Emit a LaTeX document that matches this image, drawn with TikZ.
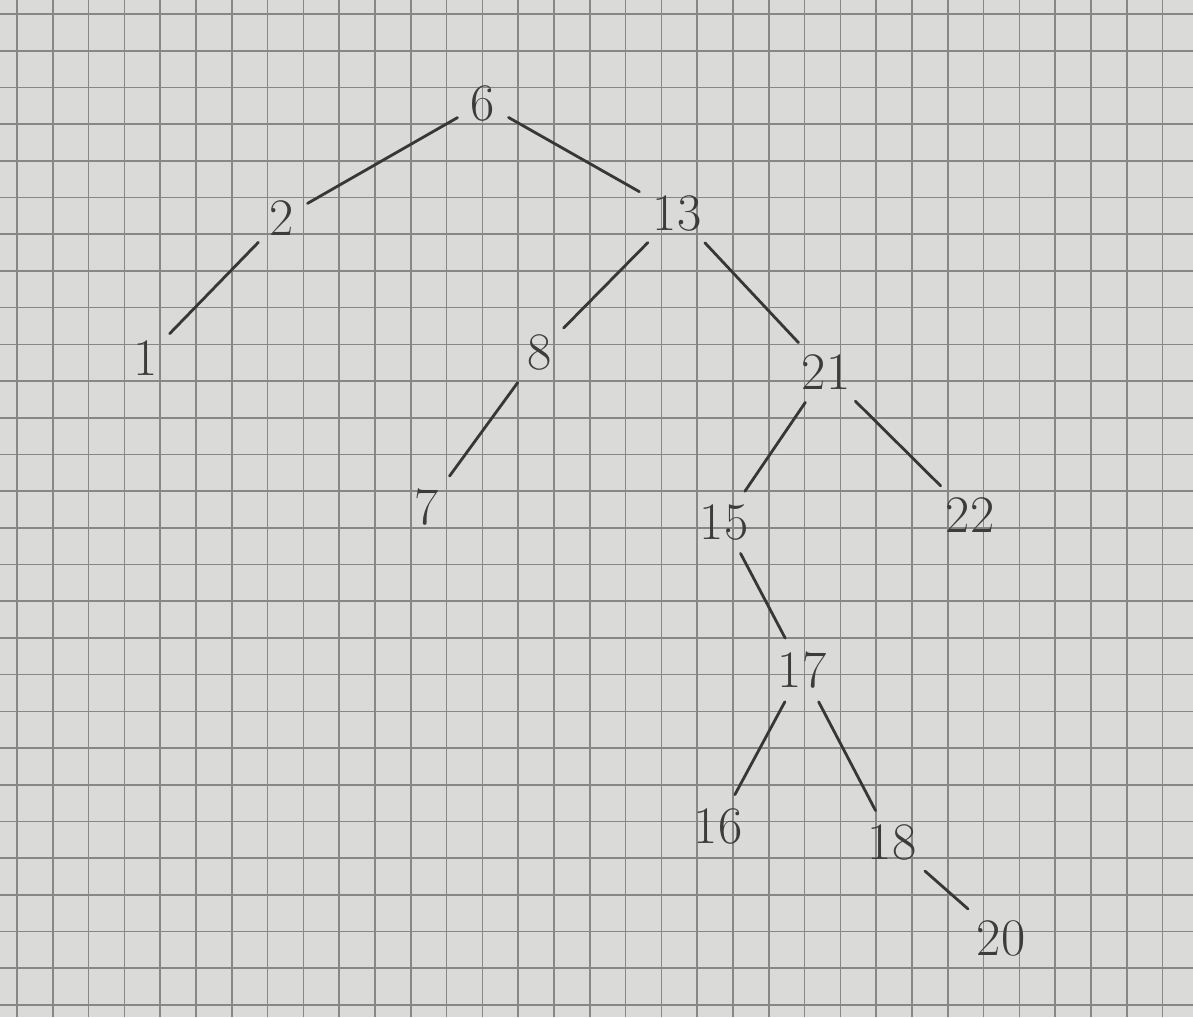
\documentclass[tikz,border=0pt]{standalone}
\begin{document}
\begin{tikzpicture}[x=0.01cm,y=-0.01cm,
  paper/.style={fill={rgb,255:red,218;green,218;blue,216}},
  gridline/.style={draw={rgb,255:red,135;green,135;blue,135},line width=0.45pt},
  num/.style={font=\fontsize{15}{18}\selectfont, text={rgb,255:red,60;green,60;blue,60}, inner sep=1pt},
  edge/.style={draw={rgb,255:red,55;green,55;blue,55},line width=0.8pt,line cap=round, shorten <=3pt, shorten >=3pt}]
\fill[paper] (0,0) rectangle (1193,1017);
\useasboundingbox (0,0) rectangle (1193,1017);
\foreach \i in {0,...,33} {
  \draw[gridline] ({17+35.8*\i},0) -- ({17+35.8*\i},1017);
}
\foreach \j in {0,...,28} {
  \draw[gridline] (0,{14+36.7*\j}) -- (1193,{14+36.7*\j});
}
\node[num] (n6) at (483,103) {6};
\node[num] (n2) at (282,218) {2};
\node[num] (n13) at (677,213) {13};
\node[num] (n1) at (146,358) {1};
\node[num] (n8) at (540,352) {8};
\node[num] (n21) at (826,372) {21};
\node[num] (n7) at (427,507) {7};
\node[num] (n15) at (724,522) {15};
\node[num] (n22) at (970,515) {22};
\node[num] (n17) at (802,670) {17};
\node[num] (n16) at (718,826) {16};
\node[num] (n18) at (892,842) {18};
\node[num] (n20) at (1001,938) {20};
\draw[edge] (n6) -- (n2);
\draw[edge] (n6) -- (n13);
\draw[edge] (n2) -- (n1);
\draw[edge] (n13) -- (n8);
\draw[edge] (n13) -- (n21);
\draw[edge] (n8) -- (n7);
\draw[edge] (n21) -- (n15);
\draw[edge] (n21) -- (n22);
\draw[edge] (n15) -- (n17);
\draw[edge] (n17) -- (n16);
\draw[edge] (n17) -- (n18);
\draw[edge] (n18) -- (n20);
\end{tikzpicture}
\end{document}
